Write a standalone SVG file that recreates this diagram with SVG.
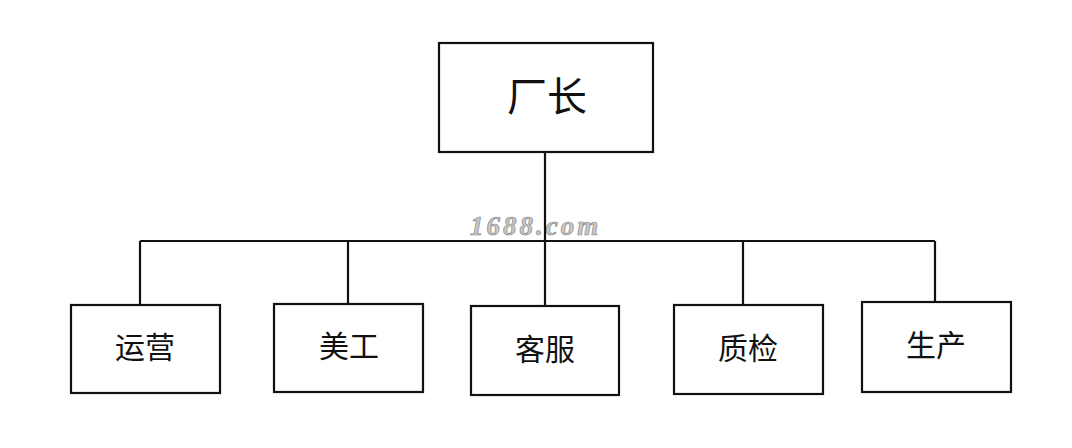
<svg xmlns="http://www.w3.org/2000/svg" width="1072" height="448" viewBox="0 0 1072 448">
<style>
.box{fill:#fff;stroke:#111;stroke-width:2.2}
.ln{stroke:#111;stroke-width:2.2;fill:none}
.t{font-family:"Noto Sans CJK SC","Noto Sans",sans-serif;font-size:30px;fill:#111;text-anchor:middle;dominant-baseline:central}
.wm{font-family:"Liberation Serif",serif;font-style:italic;font-weight:bold;font-size:27px;letter-spacing:3px;fill:#c8c8c8;stroke:#8a8a8a;stroke-width:0.7}
</style>
<rect width="1072" height="448" fill="#fff"/>
<text class="wm" x="470" y="235">1688.com</text>
<g id="connectors">
<path class="ln" d="M545 153V306M140 241H935M140 241V305M348 241V304M743 241V305M935 241V302"/>
</g>
<g id="n-factory"><rect class="box" x="439" y="43" width="214" height="109"/><text class="t" x="547" y="94" style="font-size:40px">厂长</text></g>
<g id="n-yunying"><rect class="box" x="71" y="305" width="149" height="88"/><text class="t" x="145" y="345">运营</text></g>
<g id="n-meigong"><rect class="box" x="274" y="304" width="149" height="88"/><text class="t" x="349" y="344">美工</text></g>
<g id="n-kefu"><rect class="box" x="471" y="306" width="148" height="89"/><text class="t" x="545" y="347">客服</text></g>
<g id="n-zhijian"><rect class="box" x="674" y="305" width="149" height="89"/><text class="t" x="748" y="346">质检</text></g>
<g id="n-shengchan"><rect class="box" x="862" y="302" width="149" height="90"/><text class="t" x="936" y="343">生产</text></g>
</svg>
